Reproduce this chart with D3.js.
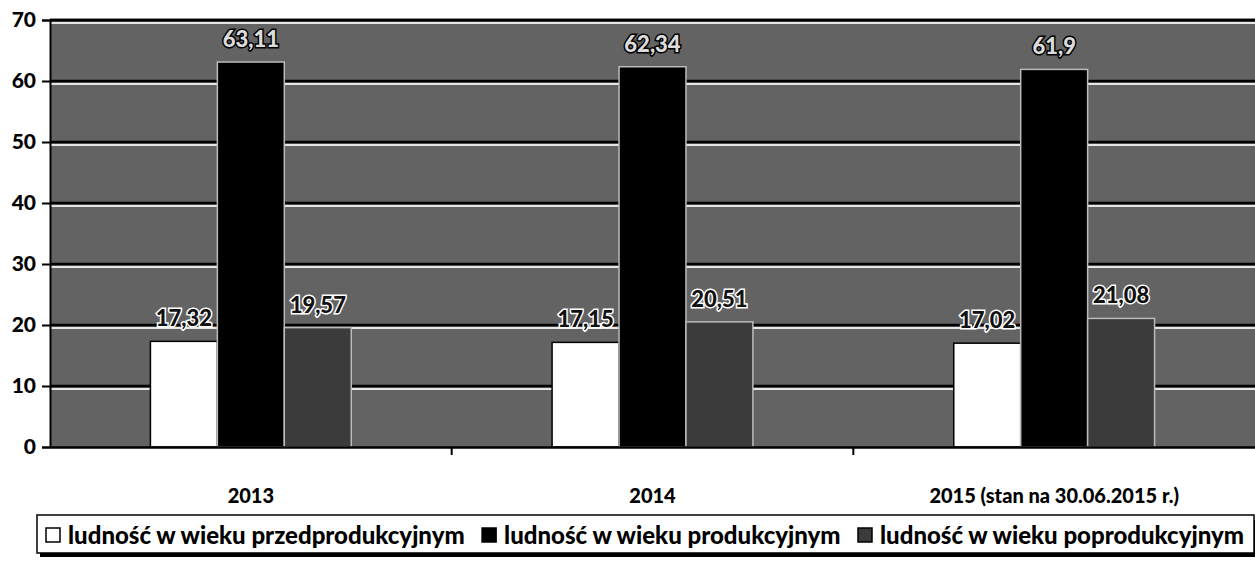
<!DOCTYPE html>
<html>
<head>
<meta charset="utf-8">
<script src="https://cdn.jsdelivr.net/npm/d3@7"></script>
<style>
  body { margin: 0; background: #fff; }
  svg { display: block; font-family: Lato, "Open Sans", sans-serif; }
</style>
</head>
<body>
<div class="holder"></div>
<script>
"use strict";

const years = ["2013", "2014", "2015 (stan na 30.06.2015 r.)"];
const seriesNames = [
  "ludność w wieku przedprodukcyjnym",
  "ludność w wieku produkcyjnym",
  "ludność w wieku poprodukcyjnym"
];
const przed = [17.32, 17.15, 17.02];
const prod = [63.11, 62.34, 61.9];
const poprod = [19.57, 20.51, 21.08];
const yTicks = [0, 10, 20, 30, 40, 50, 60, 70];

const w = 1255;
const h = 569;
const m = { top: 20, right: 0, bottom: 122, left: 50 };
const colors = ["#ffffff", "#000000", "#3b3b3b"];
const labelFill = ["#111", "#dcdcdc", "#111"];
const labelHalo = ["#fff", "#000", "#fff"];

const seriesValues = [przed, prod, poprod];
const rows = years.map((y, i) => ({
  year: y,
  values: seriesValues.map((s, j) => ({ key: j, value: s[i] }))
}));

const svg = d3
  .select(".holder")
  .append("svg")
  .attr("width", w)
  .attr("height", h);

const x0 = d3
  .scaleBand()
  .domain(years)
  .range([m.left, w - m.right])
  .paddingInner(0.5)
  .paddingOuter(0.25);
const x1 = d3
  .scaleBand()
  .domain([0, 1, 2])
  .range([0, x0.bandwidth()]);
const y = d3
  .scaleLinear()
  .domain([0, 70])
  .range([h - m.bottom, m.top]);

// plot background
svg
  .append("rect")
  .attr("x", m.left)
  .attr("y", m.top)
  .attr("width", w - m.left - m.right)
  .attr("height", y(0) - m.top)
  .attr("fill", "#636363");

// gridlines: black line with a light line under it
const grid = svg.append("g");
grid
  .selectAll("line.g1")
  .data(yTicks.slice(1))
  .enter()
  .append("line")
  .attr("x1", m.left)
  .attr("x2", w - m.right)
  .attr("y1", (d) => y(d) + 3)
  .attr("y2", (d) => y(d) + 3)
  .attr("stroke", "#e6e6e6")
  .attr("stroke-width", 2);
grid
  .selectAll("line.g2")
  .data(yTicks.slice(1))
  .enter()
  .append("line")
  .attr("x1", m.left)
  .attr("x2", w - m.right)
  .attr("y1", (d) => y(d))
  .attr("y2", (d) => y(d))
  .attr("stroke", "#000")
  .attr("stroke-width", 2.5);

// bars
const groups = svg
  .selectAll("g.year")
  .data(rows)
  .enter()
  .append("g")
  .attr("class", "year")
  .attr("transform", (d) => "translate(" + x0(d.year) + ",0)");

groups
  .selectAll("rect")
  .data((d) => d.values)
  .enter()
  .append("rect")
  .attr("x", (d) => x1(d.key))
  .attr("y", (d) => y(d.value))
  .attr("width", x1.bandwidth())
  .attr("height", (d) => y(0) - y(d.value))
  .attr("fill", (d) => colors[d.key])
  .attr("stroke", (d) => (d.key === 0 ? "#000" : "#bbb"))
  .attr("stroke-width", 1.5);

groups
  .selectAll("text")
  .data((d) => d.values)
  .enter()
  .append("text")
  .attr("x", (d) => x1(d.key) + x1.bandwidth() / 2)
  .attr("y", (d) => y(d.value) - 15)
  .attr("text-anchor", "middle")
  .attr("font-size", 22)
  .attr("font-weight", 900)
  .attr("fill", (d) => labelFill[d.key])
  .attr("stroke", (d) => labelHalo[d.key])
  .attr("stroke-width", 3)
  .attr("paint-order", "stroke")
  .text((d) => String(d.value).replace(".", ","));

// y axis
const yAxis = d3
  .axisLeft(y)
  .tickValues(yTicks)
  .tickSize(8)
  .tickPadding(6);
svg
  .append("g")
  .attr("transform", "translate(" + m.left + ",0)")
  .call(yAxis)
  .call((g) => g.selectAll("line, path").attr("stroke", "#000").attr("stroke-width", 2))
  .call((g) =>
    g
      .selectAll("text")
      .attr("font-size", 21)
      .attr("font-weight", 900)
      .attr("fill", "#000")
      .attr("font-family", "Lato, sans-serif")
  );

// top border
svg
  .append("line")
  .attr("x1", m.left)
  .attr("x2", w - m.right)
  .attr("y1", y(70))
  .attr("y2", y(70))
  .attr("stroke", "#000")
  .attr("stroke-width", 2.5);

// x axis
const xAxis = d3.axisBottom(x0).tickSize(0).tickPadding(42);
svg
  .append("g")
  .attr("transform", "translate(0," + y(0) + ")")
  .call(xAxis)
  .call((g) => g.select("path").attr("stroke", "#000").attr("stroke-width", 2.5))
  .call((g) =>
    g
      .selectAll("text")
      .attr("font-size", 20)
      .attr("font-weight", 900)
      .attr("fill", "#000")
      .attr("font-family", "Lato, sans-serif")
  );

// category separator ticks
svg
  .append("g")
  .selectAll("line")
  .data(years.slice(1))
  .enter()
  .append("line")
  .attr("x1", (d) => x0(d) - (x0.step() - x0.bandwidth()) / 2)
  .attr("x2", (d) => x0(d) - (x0.step() - x0.bandwidth()) / 2)
  .attr("y1", y(0))
  .attr("y2", y(0) + 8)
  .attr("stroke", "#000")
  .attr("stroke-width", 2);

// legend
const legend = svg.append("g").attr("id", "legend");
legend
  .append("rect")
  .attr("x", 40)
  .attr("y", 520)
  .attr("width", 1215)
  .attr("height", 37)
  .attr("fill", "#000");
legend
  .append("rect")
  .attr("x", 37)
  .attr("y", 515)
  .attr("width", 1217)
  .attr("height", 38)
  .attr("fill", "#fff")
  .attr("stroke", "#000")
  .attr("stroke-width", 1.5);

const items = legend
  .selectAll("g.item")
  .data(seriesNames)
  .enter()
  .append("g")
  .attr("class", "item");
items
  .append("rect")
  .attr("x", 0)
  .attr("y", -7)
  .attr("width", 14)
  .attr("height", 14)
  .attr("fill", (d, i) => colors[i])
  .attr("stroke", "#000")
  .attr("stroke-width", 1.5);
items
  .append("text")
  .attr("x", 22)
  .attr("y", 0)
  .attr("dy", "0.36em")
  .attr("font-size", 24)
  .attr("font-weight", 900)
  .attr("fill", "#000")
  .text((d) => d);

// lay legend items out in a row between start and end
const legStart = 46;
const legEnd = 1244;
const widths = [];
items.select("text").each(function () {
  widths.push(22 + this.getComputedTextLength());
});
const gap = (legEnd - legStart - d3.sum(widths)) / (widths.length - 1);
let pos = legStart;
items.attr("transform", (d, i) => {
  const t = "translate(" + pos + ",535)";
  pos += widths[i] + gap;
  return t;
});
</script>
</body>
</html>
